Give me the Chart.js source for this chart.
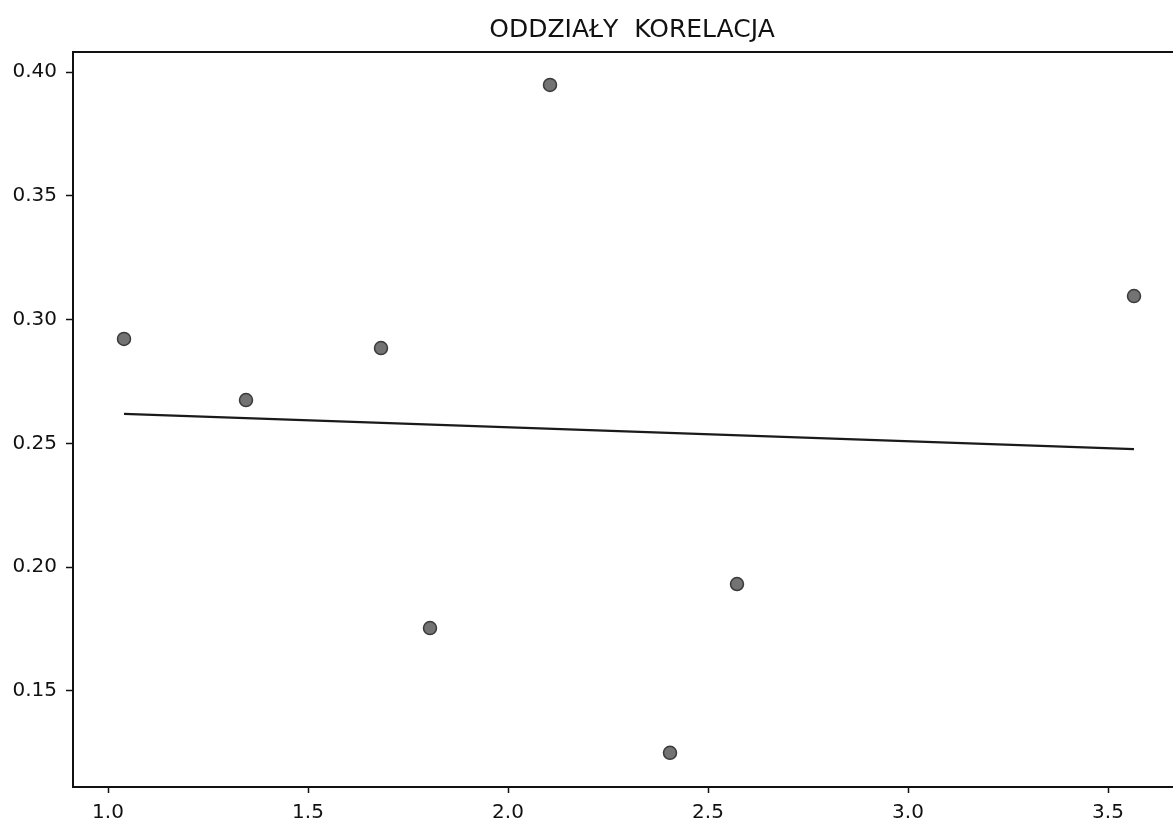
<!DOCTYPE html>
<html>
<head>
<meta charset="utf-8">
<script src="https://cdn.jsdelivr.net/npm/chart.js@4.4.1/dist/chart.umd.min.js"></script>
<style>
  html, body { margin: 0; padding: 0; background: #fff; overflow: hidden; }
  #wrap { width: 1173px; height: 820px; overflow: hidden; }
</style>
</head>
<body>
<div id="wrap"><canvas id="corrChart" width="1200" height="820"></canvas></div>
<script>
// ---------- dane ----------
var pointsX = [1.04, 1.345, 1.6825, 1.805, 2.105, 2.405, 2.5725, 3.565];
var pointsY = [0.2922, 0.2675, 0.2885, 0.1754, 0.3948, 0.125, 0.1932, 0.3095];
var trendX = [1.04, 3.565];
var trendY = [0.2619, 0.2477];
var xTicks = [1.0, 1.5, 2.0, 2.5, 3.0, 3.5];
var yTicks = [0.15, 0.20, 0.25, 0.30, 0.35, 0.40];

var font = "'DejaVu Sans', sans-serif";

// ramka wokol wykresu
var framePlugin = {
  id: 'frame',
  afterDraw: function(chart) {
    var a = chart.chartArea, ctx = chart.ctx;
    ctx.save();
    ctx.strokeStyle = '#111';
    ctx.lineWidth = 2;
    ctx.strokeRect(a.left, a.top, a.right - a.left, a.bottom - a.top);
    ctx.restore();
  }
};

var ctx = document.getElementById('corrChart').getContext('2d');
var myChart = new Chart(ctx, {
  type: 'scatter',
  data: {
    datasets: [
      {
        type: 'line',
        data: trendX.map(function(x, i) { return {x: x, y: trendY[i]}; }),
        borderColor: '#1a1a1a',
        borderWidth: 2.2,
        pointRadius: 0,
        fill: false
      },
      {
        data: pointsX.map(function(x, i) { return {x: x, y: pointsY[i]}; }),
        backgroundColor: '#737373',
        borderColor: '#3a3a3a',
        borderWidth: 1.5,
        pointRadius: 6.5
      }
    ]
  },
  options: {
    responsive: false,
    animation: false,
    layout: { padding: { left: 0, right: 9, top: 0, bottom: 0 } },
    plugins: {
      legend: { display: false },
      tooltip: { enabled: false },
      title: {
        display: true,
        text: 'ODDZIAŁY  KORELACJA',
        fullSize: false,
        color: '#111',
        font: { family: font, size: 25, weight: 'normal', lineHeight: 1.2 },
        padding: { top: 15, bottom: 7 }
      }
    },
    scales: {
      x: {
        type: 'linear',
        min: 0.9125,
        max: 3.7075,
        afterFit: function(s) { s.height = 33; },
        afterBuildTicks: function(s) { s.ticks = xTicks.map(function(v) { return {value: v}; }); },
        grid: { drawOnChartArea: false, drawTicks: true, tickLength: 6, color: '#111', tickWidth: 1.5 },
        border: { color: '#111', width: 2 },
        ticks: {
          color: '#111',
          padding: 8,
          maxRotation: 0,
          font: { family: font, size: 20 },
          callback: function(v) { return Number(v).toFixed(1); }
        }
      },
      y: {
        type: 'linear',
        min: 0.1112,
        max: 0.4081,
        afterFit: function(s) { s.width = 73; },
        afterBuildTicks: function(s) { s.ticks = yTicks.map(function(v) { return {value: v}; }); },
        grid: { drawOnChartArea: false, drawTicks: true, tickLength: 7, color: '#111', tickWidth: 1.5 },
        border: { color: '#111', width: 2 },
        ticks: {
          color: '#111',
          padding: 9,
          font: { family: font, size: 20 },
          callback: function(v) { return Number(v).toFixed(2); }
        }
      }
    }
  },
  plugins: [framePlugin]
});
</script>
</body>
</html>
